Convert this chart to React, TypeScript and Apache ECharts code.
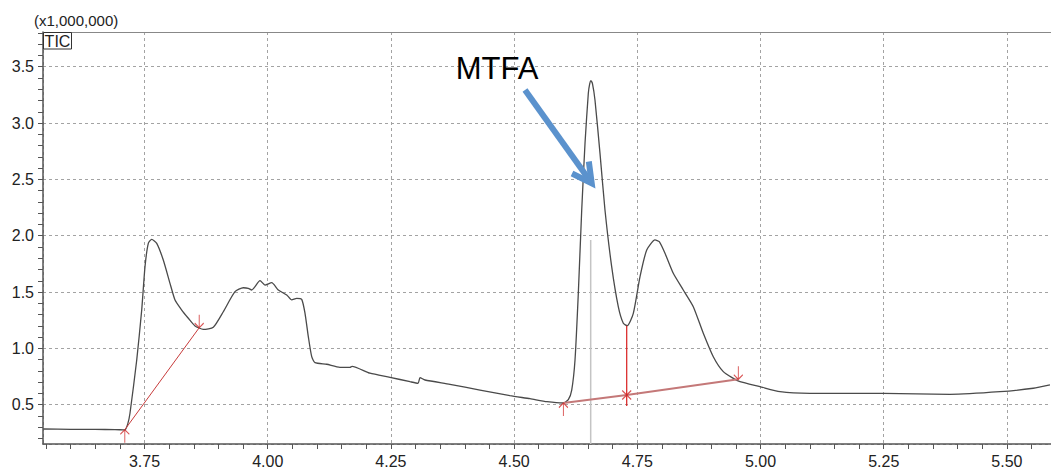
import React, { useEffect, useRef } from 'react';
import * as echarts from 'echarts';

// ---- axis extents and tick steps ----
const X_MIN = 3.544;
const X_MAX = 5.5895;
const Y_MIN = 0.151;
const Y_MAX = 3.808;
const X_MAJOR = 0.25;
const X_MINOR = 0.05;
const Y_MAJOR = 0.5;
const Y_MINOR = 0.1;

// ---- TIC trace (retention time, min) ----
const ticTime = [
  3.545, 3.6, 3.65, 3.69, 3.71, 3.716, 3.7206, 3.7342, 3.7443, 3.751, 3.7577, 3.7646,
  3.7748, 3.7881, 3.8017, 3.8119, 3.8255, 3.8389, 3.8525, 3.8693, 3.8896, 3.9099,
  3.9336, 3.9505, 3.9606, 3.9675, 3.9844, 3.9945, 4.0081, 4.0215, 4.0386, 4.0487,
  4.0588, 4.069, 4.0757, 4.0824, 4.0893, 4.096, 4.1197, 4.1467, 4.167, 4.1711,
  4.2076, 4.2482, 4.2888, 4.305, 4.3091, 4.3192, 4.3699, 4.4308, 4.4917, 4.5323,
  4.5668, 4.5992, 4.61, 4.6169, 4.6236, 4.6303, 4.6372, 4.6439, 4.6506, 4.6535,
  4.656, 4.659, 4.6641, 4.6743, 4.6844, 4.698, 4.7114, 4.7216, 4.7297, 4.7419,
  4.7555, 4.7691, 4.7859, 4.7946, 4.8062, 4.823, 4.8433, 4.8636, 4.8839, 4.9042,
  4.9245, 4.9448, 4.9584, 4.9989, 5.0396, 5.1004, 5.2492, 5.3845, 5.486, 5.5536,
  5.5874,
];
// ---- TIC trace (intensity, x1,000,000) ----
const ticIntensity = [
  0.284, 0.281, 0.28, 0.279, 0.276, 0.33, 0.426, 0.897, 1.34, 1.725, 1.932, 1.968,
  1.932, 1.784, 1.577, 1.429, 1.34, 1.267, 1.199, 1.169, 1.187, 1.325,
  1.503, 1.538, 1.533, 1.518, 1.601, 1.562, 1.583, 1.518, 1.474, 1.43,
  1.444, 1.435, 1.311, 1.104, 0.926, 0.873, 0.859, 0.832, 0.832, 0.84,
  0.779, 0.743, 0.704, 0.69, 0.74, 0.719, 0.681, 0.63, 0.58, 0.553,
  0.527, 0.515, 0.545, 0.63, 0.897, 1.489, 2.228, 2.82, 3.264, 3.35,
  3.376, 3.35, 3.204, 2.731, 2.228, 1.725, 1.37, 1.222, 1.201, 1.311,
  1.636, 1.873, 1.962, 1.947, 1.844, 1.666, 1.518, 1.37, 1.134, 0.926,
  0.793, 0.734, 0.704, 0.66, 0.615, 0.601, 0.601, 0.592, 0.615, 0.646,
  0.675,
];

// ---- integration baselines ----
const baseline1: [number, number][] = [[3.71, 0.278], [3.861, 1.183]];
const baseline2: [number, number][] = [[4.6, 0.515], [4.7285, 0.586], [4.955, 0.725]];
const dropLine: [number, number][] = [[4.7285, 0.488], [4.7285, 1.201]];
const apexLine: [number, number][] = [[4.6554, Y_MIN], [4.6554, 1.962]];
const peakStarts: [number, number][] = [[3.71, 0.278], [4.6, 0.515]];
const peakEnds: [number, number][] = [[3.861, 1.183], [4.955, 0.725]];
const peakSplits: [number, number][] = [[4.7285, 0.586]];

// ---- annotation ----
const labelText = 'MTFA';
const labelPos: [number, number] = [4.4653, 3.488];
const arrowFrom: [number, number] = [4.5221, 3.293];
const arrowTo: [number, number] = [4.6575, 2.465];

const FONT = '"Liberation Sans", Arial, sans-serif';

const isMult = (v: number, step: number) => Math.abs(v / step - Math.round(v / step)) < 1e-6;

export default function App() {
  const ref = useRef<HTMLDivElement>(null);
  useEffect(() => {
    if (!ref.current) return;
    const chart = echarts.init(ref.current, null, { renderer: 'svg' });
    const ticData = ticTime.map((t, i) => [t, ticIntensity[i]]);
    const markerStyle = { color: 'transparent', borderColor: '#d02828', borderWidth: 1.1 };
    const option: any = {
      animation: false,
      backgroundColor: '#ffffff',
      grid: { left: 43, right: 0, top: 32, bottom: 27, containLabel: false },
      xAxis: [
        {
          type: 'value', position: 'bottom', min: X_MIN, max: X_MAX,
          minInterval: X_MINOR, maxInterval: X_MINOR, splitNumber: 40,
          axisLine: { show: true, onZero: false, lineStyle: { color: '#555', width: 1.5 } },
          axisTick: { show: true, inside: false, length: 5, lineStyle: { color: '#555', width: 1 } },
          axisLabel: {
            show: true, margin: 9, color: '#222', fontSize: 16, fontFamily: FONT,
            showMinLabel: false, showMaxLabel: false,
            formatter: (v: number) => (isMult(v, X_MAJOR) ? v.toFixed(2) : ''),
          },
          splitLine: { show: false },
        },
        {
          type: 'value', position: 'top', min: X_MIN, max: X_MAX,
          minInterval: X_MAJOR, maxInterval: X_MAJOR, splitNumber: 8,
          axisLine: { show: true, onZero: false, lineStyle: { color: '#888', width: 1 } },
          axisTick: { show: false }, axisLabel: { show: false },
          splitLine: { show: true, lineStyle: { color: '#a3a3a3', type: [3, 3], width: 1 } },
        },
      ],
      yAxis: [
        {
          type: 'value', position: 'left', min: Y_MIN, max: Y_MAX,
          minInterval: Y_MINOR, maxInterval: Y_MINOR, splitNumber: 40,
          axisLine: { show: true, onZero: false, lineStyle: { color: '#555', width: 1.5 } },
          axisTick: { show: true, inside: false, length: 5, lineStyle: { color: '#555', width: 1 } },
          axisLabel: {
            show: true, margin: 9, color: '#222', fontSize: 16, fontFamily: FONT,
            showMinLabel: false, showMaxLabel: false,
            formatter: (v: number) => (isMult(v, Y_MAJOR) ? v.toFixed(1) : ''),
          },
          splitLine: { show: false },
        },
        {
          type: 'value', position: 'right', min: Y_MIN, max: Y_MAX,
          minInterval: Y_MAJOR, maxInterval: Y_MAJOR, splitNumber: 8,
          axisLine: { show: false }, axisTick: { show: false }, axisLabel: { show: false },
          splitLine: { show: true, lineStyle: { color: '#a3a3a3', type: [3, 3], width: 1 } },
        },
      ],
      series: [
        {
          type: 'line', name: 'apex', data: apexLine, symbol: 'none', silent: true,
          lineStyle: { color: '#c4c4c4', width: 1.5 }, z: 1,
        },
        {
          type: 'line', name: 'TIC', data: ticData, symbol: 'none', smooth: 0.2,
          lineStyle: { color: '#4a4a4a', width: 1.3 }, z: 3,
        },
        {
          type: 'line', name: 'base1', data: baseline1, symbol: 'none',
          lineStyle: { color: '#c83c3c', width: 1 }, z: 4,
        },
        {
          type: 'line', name: 'base2', data: baseline2, symbol: 'none',
          lineStyle: { color: '#c47878', width: 2 }, z: 4,
        },
        {
          type: 'line', name: 'drop', data: dropLine, symbol: 'none',
          lineStyle: { color: '#d81e1e', width: 1.2 }, z: 4,
        },
        {
          type: 'scatter', data: peakStarts, symbol: 'path://M0,5 L5,0 L10,5 M5,0 L5,14',
          symbolSize: [9, 13], symbolOffset: [0, 6.5], itemStyle: markerStyle, z: 5,
        },
        {
          type: 'scatter', data: peakEnds, symbol: 'path://M5,0 L5,14 M0,9 L5,14 L10,9',
          symbolSize: [9, 13], symbolOffset: [0, -6.5], itemStyle: markerStyle, z: 5,
        },
        {
          type: 'scatter', data: peakSplits, symbol: 'path://M0,0 L10,10 M10,0 L0,10',
          symbolSize: [9, 9], itemStyle: markerStyle, z: 5,
        },
      ],
    };
    chart.setOption(option);

    const px = (p: [number, number]) => chart.convertToPixel({ seriesIndex: 1 }, p) as number[];
    const a0 = px(arrowFrom);
    const a1 = px(arrowTo);
    const lp = px(labelPos);
    const ang = Math.atan2(a0[1] - a1[1], a0[0] - a1[0]);
    const wing = 22;
    const spread = (28 * Math.PI) / 180;
    const w1 = [a1[0] + wing * Math.cos(ang + spread), a1[1] + wing * Math.sin(ang + spread)];
    const w2 = [a1[0] + wing * Math.cos(ang - spread), a1[1] + wing * Math.sin(ang - spread)];
    const blue = '#5b92cd';

    chart.setOption({
      graphic: [
        {
          type: 'text', left: 34, top: 13, z: 10,
          style: { text: '(x1,000,000)', font: `15px ${FONT}`, fill: '#222' },
        },
        {
          type: 'rect', z: 10,
          shape: { x: 43.5, y: 32.5, width: 28, height: 16.5 },
          style: { fill: '#ffffff', stroke: '#333', lineWidth: 1 },
        },
        {
          type: 'text', z: 11, x: 57.5, y: 41,
          style: { text: 'TIC', font: `16px ${FONT}`, fill: '#222', textAlign: 'center', textVerticalAlign: 'middle' },
        },
        {
          type: 'text', z: 11, x: lp[0], y: lp[1],
          style: { text: labelText, font: `31px ${FONT}`, fill: '#000', textAlign: 'center', textVerticalAlign: 'middle' },
        },
        {
          type: 'line', z: 11,
          shape: { x1: a0[0], y1: a0[1], x2: a1[0], y2: a1[1] },
          style: { stroke: blue, lineWidth: 6 },
        },
        {
          type: 'polyline', z: 11,
          shape: { points: [w1, a1, w2] },
          style: { stroke: blue, lineWidth: 6, fill: 'none', lineJoin: 'miter' },
        },
      ],
    });

    return () => chart.dispose();
  }, []);
  return <div ref={ref} style={{ position: 'absolute', left: 0, top: 0, width: 1051, height: 471 }} />;
}
